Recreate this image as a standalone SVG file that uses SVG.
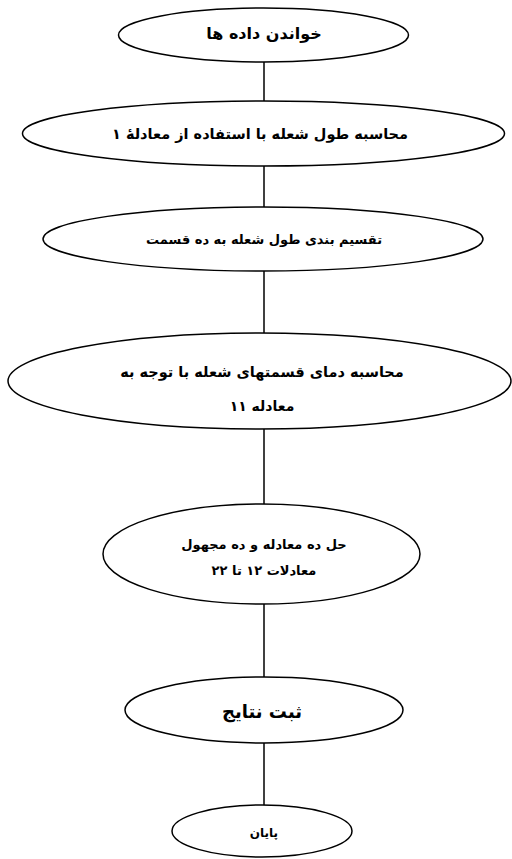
<svg xmlns="http://www.w3.org/2000/svg" width="512" height="859" viewBox="0 0 512 859">
<style>
.n{fill:#fff;stroke:#000;stroke-width:1.5}
.c{stroke:#000;stroke-width:1.5;fill:none}
text{font-family:"DejaVu Sans","Noto Sans",sans-serif;font-weight:bold;fill:#000;text-anchor:middle;direction:rtl}
</style>
<rect width="512" height="859" fill="#fff"/>
<g id="connectors">
<line class="c" x1="264" y1="62" x2="264" y2="101"/>
<line class="c" x1="264" y1="166" x2="264" y2="207"/>
<line class="c" x1="264" y1="271" x2="264" y2="333"/>
<line class="c" x1="264" y1="429" x2="264" y2="504"/>
<line class="c" x1="264" y1="604" x2="264" y2="677"/>
<line class="c" x1="264" y1="743" x2="264" y2="805"/>
</g>
<g id="n1"><ellipse class="n" cx="263.5" cy="35" rx="145" ry="27"/><text x="264" y="39" font-size="16">خواندن داده ها</text></g>
<g id="n2"><ellipse class="n" cx="263.5" cy="133.5" rx="241" ry="32.5"/><text x="260" y="139" font-size="14.5">محاسبه طول شعله با استفاده از معادلهٔ ۱</text></g>
<g id="n3"><ellipse class="n" cx="263" cy="239" rx="220" ry="32"/><text x="264" y="244" font-size="13">تقسیم بندی طول شعله به ده قسمت</text></g>
<g id="n4"><ellipse class="n" cx="259.5" cy="381" rx="251.5" ry="48"/><text x="262" y="377" font-size="14.5">محاسبه دمای قسمتهای شعله با توجه به</text><text x="262" y="411" font-size="14">معادله ۱۱</text></g>
<g id="n5"><ellipse class="n" cx="261.5" cy="554" rx="158.5" ry="50"/><text x="264" y="549" font-size="13">حل ده معادله و ده مجهول</text><text x="264" y="575" font-size="13">معادلات ۱۲ تا ۲۲</text></g>
<g id="n6"><ellipse class="n" cx="264" cy="710" rx="139" ry="33"/><text x="262" y="718" font-size="18">ثبت نتایج</text></g>
<g id="n7"><ellipse class="n" cx="262" cy="831" rx="90" ry="26"/><text x="264" y="837" font-size="12">پایان</text></g>
</svg>
